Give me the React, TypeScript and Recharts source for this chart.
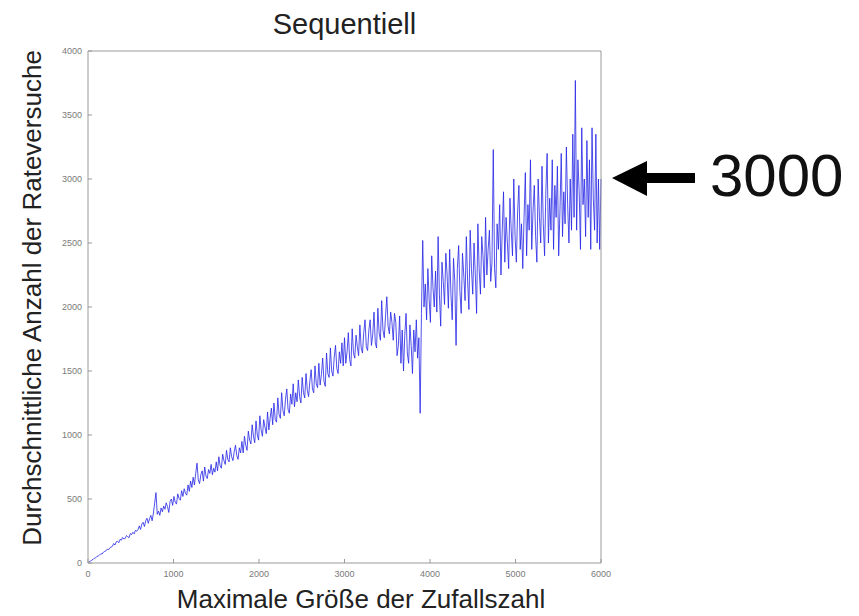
import { Line, LineChart, XAxis, YAxis } from "recharts";

const STEP = 15;

// average number of guesses, one value per STEP of the maximum random number (0..6000)
const guesses = [
  0, 10, 14, 24, 28, 38, 40, 52, 55, 62, 72, 70, 84, 90, 95, 108, 104, 118, 125, 130,
  152, 140, 165, 170, 158, 185, 178, 200, 188, 192, 215, 205, 198, 230, 222, 240, 228, 255, 248, 262,
  290, 262, 305, 318, 285, 330, 350, 310, 345, 372, 330, 390, 470, 550, 380, 405, 372, 430, 400, 445,
  420, 470, 440, 395, 480, 500, 450, 520, 475, 460, 540, 505, 490, 565, 520, 580, 545, 530, 610, 560,
  640, 590, 670, 610, 700, 780, 650, 620, 690, 720, 640, 750, 680, 660, 730, 700, 770, 690, 740, 710,
  790, 720, 830, 760, 740, 850, 800, 770, 880, 810, 790, 900, 830, 800, 870, 920, 840, 810, 900, 860,
  950, 860, 990, 920, 880, 1030, 960, 930, 1080, 990, 940, 1110, 1000, 960, 1150, 1040, 990, 1120, 1060, 1010,
  1180, 1040, 1130, 1210, 1080, 1250, 1120, 1100, 1290, 1160, 1130, 1330, 1190, 1150, 1280, 1360, 1200, 1170, 1320, 1240,
  1400, 1220, 1330, 1260, 1430, 1300, 1250, 1450, 1330, 1290, 1480, 1350, 1300, 1420, 1510, 1360, 1330, 1540, 1400, 1370,
  1560, 1390, 1470, 1600, 1420, 1380, 1640, 1480, 1450, 1680, 1500, 1460, 1610, 1700, 1520, 1480, 1650, 1560, 1720, 1540,
  1760, 1560, 1650, 1800, 1590, 1540, 1830, 1640, 1600, 1780, 1690, 1620, 1860, 1680, 1640, 1800, 1900, 1690, 1660, 1820,
  1900, 1700, 1780, 1960, 1720, 1680, 1990, 1800, 1740, 2050, 1820, 1760, 1930, 2080, 1850, 1790, 1960, 1880, 1740, 1950,
  1880, 1620, 1700, 1930, 1560, 1820, 1500, 1780, 1950, 1640, 1560, 1860, 1700, 1480, 1820, 1650, 1900, 1600, 1760, 1170,
  1950, 2520, 2000, 2180, 1900, 2300, 2060, 1880, 2400, 2150, 2000, 2280, 1960, 2550, 2100, 1850, 2350, 2200, 2020, 2420,
  2250, 1990, 2450, 2100, 1900, 2380, 2200, 1700, 2300, 2480, 2120, 1950, 2420, 2250, 2050, 2550, 2200, 1980, 2600, 2300,
  2100, 2500, 2250, 1950, 2650, 2300, 2100, 2550, 2400, 2150, 2700, 2250, 2450, 2600, 2200, 2350, 3230, 2300, 2150, 2650,
  2450, 2800, 2250, 2600, 2900, 2350, 2700, 2500, 2300, 2850, 2600, 2400, 3000, 2550, 2350, 2750, 2950, 2450, 2650, 2300,
  2700, 3050, 2400, 2800, 2600, 3150, 2450, 2750, 2950, 2550, 2350, 3000, 2700, 2500, 3100, 2650, 2400, 2900, 3200, 2500,
  2850, 2600, 3150, 2450, 2950, 2700, 3100, 2400, 2750, 3200, 2550, 2900, 2650, 3250, 2800, 2500, 3000, 2600, 3350, 2700,
  3770, 2600, 3150, 2900, 2450, 3400, 2800, 3000, 2550, 3300, 2700, 3150, 2450, 3400, 2850, 2600, 3350, 2500, 3000, 2450,
  3000,
];

const xTicks = [0, 1000, 2000, 3000, 4000, 5000, 6000];
const yTicks = [0, 500, 1000, 1500, 2000, 2500, 3000, 3500, 4000];

const title = "Sequentiell";
const xLabel = "Maximale Größe der Zufallszahl";
const yLabel = "Durchschnittliche Anzahl der Rateversuche";
const callout = "3000";

const font = "'Liberation Sans', Arial, sans-serif";
const frame = "#9a9a9a";
const tickText = { fill: "#7a7a7a", fontSize: 9, fontFamily: font };

export default function App() {
  const rows = guesses.map((v, i) => ({ n: i * STEP, v }));
  return (
    <div style={{ position: "absolute", left: 0, top: 0, width: 859, height: 616, background: "#fff" }}>
      <LineChart width={859} height={616} data={rows} margin={{ top: 50, right: 257, bottom: 23, left: 48 }}>
        <XAxis
          dataKey="n"
          type="number"
          domain={[0, 6000]}
          ticks={xTicks}
          height={30}
          tick={tickText}
          tickSize={-4}
          tickMargin={12}
          stroke={frame}
          interval={0}
        />
        <XAxis
          xAxisId="top"
          orientation="top"
          dataKey="n"
          type="number"
          domain={[0, 6000]}
          ticks={xTicks}
          height={1}
          tick={false}
          tickSize={-4}
          stroke={frame}
          interval={0}
        />
        <YAxis
          type="number"
          domain={[0, 4000]}
          ticks={yTicks}
          width={40}
          tick={tickText}
          tickSize={-4}
          tickMargin={10}
          stroke={frame}
          interval={0}
        />
        <YAxis
          yAxisId="right"
          orientation="right"
          type="number"
          domain={[0, 4000]}
          ticks={yTicks}
          width={1}
          tick={false}
          tickSize={-4}
          stroke={frame}
          interval={0}
        />
        <Line
          xAxisId="top"
          yAxisId="right"
          dataKey="v"
          stroke="none"
          dot={false}
          activeDot={false}
          isAnimationActive={false}
        />
        <Line
          dataKey="v"
          stroke="#2424e6"
          strokeWidth={0.8}
          dot={false}
          activeDot={false}
          isAnimationActive={false}
        />
      </LineChart>
      <svg
        width={859}
        height={616}
        style={{ position: "absolute", left: 0, top: 0, pointerEvents: "none" }}
        fontFamily={font}
      >
        <text x={344.5} y={34} textAnchor="middle" fontSize={29} fill="#222">
          {title}
        </text>
        <text x={361} y={608} textAnchor="middle" fontSize={26} fill="#222">
          {xLabel}
        </text>
        <text
          x={0}
          y={0}
          textAnchor="middle"
          fontSize={26}
          fill="#222"
          transform="translate(41,298) rotate(-90)"
        >
          {yLabel}
        </text>
        <polygon points="612,178 647,161 647,196" fill="#000" />
        <rect x={645} y={173} width={50} height={10} fill="#000" />
        <text x={710} y={196} fontSize={60} fill="#111">
          {callout}
        </text>
      </svg>
    </div>
  );
}
